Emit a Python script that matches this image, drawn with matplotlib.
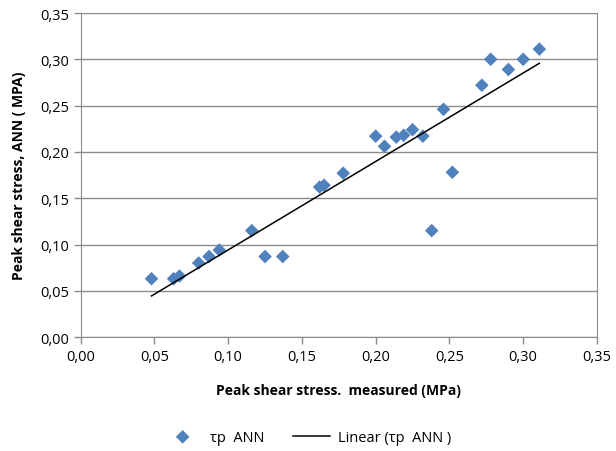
import matplotlib.pyplot as plt
import numpy as np
from matplotlib.ticker import FuncFormatter, MultipleLocator

plt.rcParams['font.family'] = ['Open Sans', 'DejaVu Sans']

# measured vs ANN predicted peak shear stress (MPa)
measured = [0.048, 0.063, 0.067, 0.080, 0.087, 0.094, 0.116, 0.125, 0.137,
            0.162, 0.165, 0.178, 0.200, 0.206, 0.214, 0.219, 0.225, 0.232,
            0.238, 0.246, 0.252, 0.272, 0.278, 0.290, 0.300, 0.311]
ann = [0.063, 0.063, 0.066, 0.080, 0.087, 0.094, 0.115, 0.087, 0.087,
       0.162, 0.164, 0.177, 0.217, 0.206, 0.216, 0.218, 0.224, 0.217,
       0.115, 0.246, 0.178, 0.272, 0.300, 0.289, 0.300, 0.311]

fig = plt.figure(figsize=(6.16, 4.52), dpi=100)
ax = fig.add_axes([0.131, 0.252, 0.838, 0.717])

ax.scatter(measured, ann, marker='D', s=48, color='#4F81BD', zorder=3,
           label='τp  ANN', edgecolors='none')

# linear trendline over the measured range
k, b = np.polyfit(measured, ann, 1)
xs = np.array([min(measured), max(measured)])
ax.plot(xs, k * xs + b, color='black', lw=1.1, zorder=4, label='Linear (τp  ANN )')

ax.set_xlim(0, 0.35)
ax.set_ylim(0, 0.35)
ax.xaxis.set_major_locator(MultipleLocator(0.05))
ax.yaxis.set_major_locator(MultipleLocator(0.05))
fmt = FuncFormatter(lambda v, p: f'{v:.2f}'.replace('.', ','))
ax.xaxis.set_major_formatter(fmt)
ax.yaxis.set_major_formatter(fmt)

ax.grid(axis='y', color='#8c8c8c', lw=1)
ax.set_axisbelow(True)
for s in ax.spines.values():
    s.set_color('#8c8c8c')
ax.spines['top'].set_visible(False)
ax.tick_params(colors='#8c8c8c', labelcolor='black', labelsize=10.5, length=5, width=1)

ax.set_xlabel('Peak shear stress.  measured (MPa)', fontsize=10, fontweight='bold', labelpad=14)
ax.set_ylabel('Peak shear stress, ANN ( MPA)', fontsize=10, fontweight='bold', labelpad=10)

fig.legend(loc='lower center', bbox_to_anchor=(0.5, -0.015), ncol=2, frameon=False,
           fontsize=10.5, handlelength=2.5, columnspacing=2.0, handletextpad=0.6)

fig.savefig('out.png', dpi=100)
